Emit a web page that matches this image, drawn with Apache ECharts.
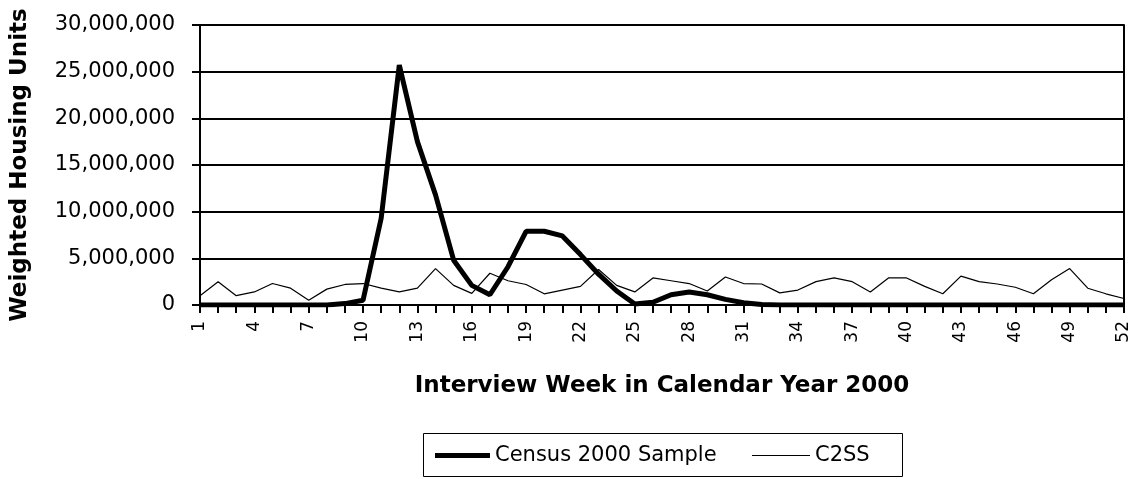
<!DOCTYPE html>
<html>
<head>
<meta charset="utf-8">
<script src="https://cdn.jsdelivr.net/npm/echarts@6/dist/echarts.min.js"></script>
<style>
	html, body { margin: 0; padding: 0; background: #fff; }
	#chart { width: 1133px; height: 479px; }
</style>
</head>
<body>
<div id="chart"></div>
<script>
// weeks 1..52 of 2000
const weeks = Array.from({ length: 52 }, (_, i) => String(i + 1))

// values in millions
const census = [
	0, 0, 0, 0, 0, 0, 0, 0, 0.15, 0.5,
	9.3, 25.7, 17.5, 11.8, 4.8, 2.1, 1.1, 4.1, 7.9, 7.9,
	7.4, 5.4, 3.3, 1.5, 0.1, 0.3, 1.1, 1.4, 1.1, 0.6,
	0.25, 0.05, 0, 0, 0, 0, 0, 0, 0, 0,
	0, 0, 0, 0, 0, 0, 0, 0, 0, 0,
	0, 0
]
const c2ss = [
	1.0, 2.5, 1.0, 1.4, 2.3, 1.8, 0.5, 1.7, 2.2, 2.3,
	1.8, 1.4, 1.8, 3.9, 2.1, 1.25, 3.4, 2.6, 2.2, 1.2,
	1.6, 2.0, 3.8, 2.1, 1.4, 2.9, 2.6, 2.3, 1.5, 3.0,
	2.3, 2.25, 1.3, 1.6, 2.5, 2.9, 2.5, 1.4, 2.9, 2.9,
	2.0, 1.2, 3.1, 2.5, 2.25, 1.9, 1.2, 2.7, 3.9, 1.8,
	1.2, 0.7
]

const font = '"DejaVu Sans", Verdana, sans-serif'
const fmt = v => v.toLocaleString('en-US')
const legendText = { fontFamily: font, fontSize: 21, color: '#000' }

const chart = echarts.init(document.getElementById('chart'))
chart.setOption({
	backgroundColor: '#fff',
	animation: false,
	grid: { left: 200, right: 9, top: 25, bottom: 174, outerBoundsMode: 'none', containLabel: false },
	// two legends so each line sample keeps its own thickness
	legend: [{
		left: 435,
		top: 445,
		padding: 0,
		icon: 'rect',
		itemWidth: 55,
		itemHeight: 5,
		textStyle: legendText,
		data: ['Census 2000 Sample']
	}, {
		left: 752,
		top: 445,
		padding: 0,
		icon: 'rect',
		itemWidth: 58,
		itemHeight: 1,
		textStyle: legendText,
		data: ['C2SS']
	}],
	// legend frame
	graphic: [{
		type: 'rect',
		shape: { x: 423.5, y: 433.5, width: 479, height: 43 },
		style: { fill: 'none', stroke: '#000', lineWidth: 1 }
	}],
	xAxis: {
		type: 'category',
		data: weeks,
		boundaryGap: false,
		name: 'Interview Week in Calendar Year 2000',
		nameLocation: 'middle',
		nameGap: 70,
		nameTextStyle: { fontFamily: font, fontSize: 23, fontWeight: 'bold', color: '#000' },
		axisLine: { lineStyle: { color: '#000', width: 2 } },
		axisTick: { show: true, interval: 0, length: 8, lineStyle: { color: '#000', width: 2 } },
		axisLabel: {
			interval: 2,
			rotate: 90,
			margin: 16,
			fontFamily: font,
			fontSize: 17,
			color: '#000'
		}
	},
	yAxis: [{
		type: 'value',
		min: 0,
		max: 30000000,
		interval: 5000000,
		name: 'Weighted Housing Units',
		nameLocation: 'middle',
		nameGap: 168,
		nameTextStyle: { fontFamily: font, fontSize: 23, fontWeight: 'bold', color: '#000' },
		axisLine: { show: true, lineStyle: { color: '#000', width: 2 } },
		axisTick: { show: true, length: 8, lineStyle: { color: '#000', width: 2 } },
		axisLabel: { formatter: fmt, margin: 25, fontFamily: font, fontSize: 21, color: '#000' },
		splitLine: { lineStyle: { color: '#000', width: 2 } }
	}, {
		type: 'value',
		position: 'right',
		min: 0,
		max: 30000000,
		interval: 5000000,
		axisLine: { show: true, lineStyle: { color: '#000', width: 2 } },
		axisTick: { show: false },
		axisLabel: { show: false },
		splitLine: { show: false }
	}],
	series: [
		{
			name: 'Census 2000 Sample',
			type: 'line',
			data: census.map(v => v * 1e6),
			symbol: 'none',
			color: '#000',
			lineStyle: { color: '#000', width: 5 },
			z: 3
		},
		{
			name: 'C2SS',
			type: 'line',
			data: c2ss.map(v => v * 1e6),
			symbol: 'none',
			color: '#000',
			lineStyle: { color: '#000', width: 1.2 },
			z: 2
		}
	]
})
</script>
</body>
</html>
